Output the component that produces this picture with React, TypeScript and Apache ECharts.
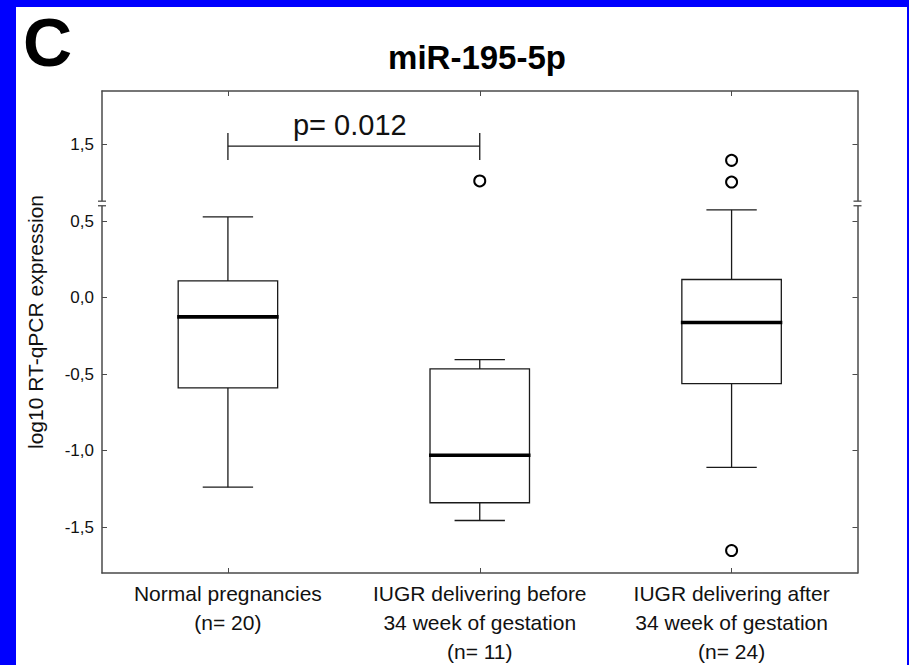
import { useEffect, useRef } from 'react';
import * as echarts from 'echarts';

const categories = [
  'Normal pregnancies\n(n= 20)',
  'IUGR delivering before\n34 week of gestation\n(n= 11)',
  'IUGR delivering after\n34 week of gestation\n(n= 24)',
];
const whiskerLow = [-1.239, -1.457, -1.11];
const quartile1 = [-0.59, -1.341, -0.562];
const medians = [-0.126, -1.03, -0.163];
const quartile3 = [0.109, -0.466, 0.118];
const whiskerHigh = [0.527, -0.405, 0.573];
const outlierCategory = [1, 2, 2, 2];
const outlierValues = [1.262, 1.397, 1.255, -1.653];
const yTicks = [-1.5, -1.0, -0.5, 0.0, 0.5, 1.5];
const breakStart = 0.6;
const breakEnd = 1.13;
const breakGap = 0.03;
const yMin = -1.8;
const yMax = 1.85;
const pFrom = 0;
const pTo = 1;
const pLevel = 1.49;
const pLabel = 'p= 0.012';

const FONT = '"Liberation Sans", Arial, Helvetica, sans-serif';
const AXIS_COLOR = '#4a4a4a';
const LINE_COLOR = '#1a1a1a';
const FRAME_BLUE = '#0000ff';

export default function App() {
  const ref = useRef<HTMLDivElement>(null);
  useEffect(() => {
    if (!ref.current) return;
    const chart = echarts.init(ref.current, undefined, { renderer: 'svg' });
    const fmt = (v: number) => v.toFixed(1).replace('.', ',');
    const boxData = categories.map((_, i) => [i, whiskerLow[i], quartile1[i], medians[i], quartile3[i], whiskerHigh[i]]);
    const outlierData = outlierValues.map((v, i) => [outlierCategory[i], v]);
    const yAxisCommon = {
      type: 'value',
      min: yMin,
      max: yMax,
      breaks: [{ start: breakStart, end: breakEnd, gap: breakGap }],
      breakArea: { show: false },
      splitLine: { show: false },
      axisLine: { show: true, onZero: false, lineStyle: { color: AXIS_COLOR, width: 1.5 } },
    };
    const xAxisLine = { show: true, onZero: false, lineStyle: { color: AXIS_COLOR, width: 1.5 } };
    const option: any = {
      animation: false,
      backgroundColor: '#ffffff',
      graphic: [
        { type: 'rect', z: -10, silent: true, shape: { x: 0, y: 0, width: 16, height: 665 }, style: { fill: FRAME_BLUE } },
        { type: 'rect', z: -10, silent: true, shape: { x: 0, y: 0, width: 909, height: 7 }, style: { fill: FRAME_BLUE } },
        { type: 'rect', z: -10, silent: true, shape: { x: 907, y: 0, width: 2, height: 665 }, style: { fill: FRAME_BLUE } },
      ],
      title: [
        {
          text: 'C',
          left: 18,
          top: 3,
          textStyle: { fontFamily: FONT, fontSize: 68, fontWeight: 'bold', color: '#000' },
        },
        {
          text: 'miR-195-5p',
          left: 472,
          top: 36,
          textAlign: 'center',
          textStyle: { fontFamily: FONT, fontSize: 33, fontWeight: 'bold', color: '#000' },
        },
      ],
      grid: { left: 102, right: 51.5, top: 91, bottom: 92, outerBoundsMode: 'none' },
      xAxis: [
        {
          type: 'category',
          data: categories,
          position: 'bottom',
          axisLine: xAxisLine,
          axisTick: { show: true, inside: true, alignWithLabel: true, length: 5, lineStyle: { color: AXIS_COLOR } },
          axisLabel: {
            interval: 0,
            margin: 6,
            fontFamily: FONT,
            fontSize: 21,
            lineHeight: 29,
            color: '#111',
          },
        },
        {
          type: 'category',
          data: categories,
          position: 'top',
          axisLine: xAxisLine,
          axisTick: { show: true, inside: true, alignWithLabel: true, length: 5, lineStyle: { color: AXIS_COLOR } },
          axisLabel: { show: false },
        },
      ],
      yAxis: [
        {
          ...yAxisCommon,
          position: 'left',
          name: 'log10 RT-qPCR expression',
          nameLocation: 'middle',
          nameRotate: 90,
          nameGap: 56,
          nameTextStyle: { fontFamily: FONT, fontSize: 21, color: '#111', padding: [0, 0, 0, 20] },
          axisTick: { show: true, inside: true, length: 5, customValues: yTicks, lineStyle: { color: AXIS_COLOR } },
          axisLabel: {
            customValues: yTicks,
            formatter: fmt,
            margin: 8,
            fontFamily: FONT,
            fontSize: 17,
            color: '#111',
          },
        },
        {
          ...yAxisCommon,
          position: 'right',
          axisTick: { show: true, inside: true, length: 5, customValues: yTicks, lineStyle: { color: AXIS_COLOR } },
          axisLabel: { show: false },
        },
      ],
      series: [
        {
          type: 'custom',
          name: 'boxes',
          xAxisIndex: 0,
          yAxisIndex: 0,
          encode: { x: 0, y: [1, 2, 3, 4, 5] },
          data: boxData,
          z: 3,
          renderItem: (params: any, api: any) => {
            const i = api.value(0);
            const band = api.size([1, 0])[0];
            const boxW = band * 0.395;
            const capW = band * 0.2;
            const low = api.coord([i, api.value(1)]);
            const cx = low[0];
            const yLow = low[1];
            const yQ1 = api.coord([i, api.value(2)])[1];
            const yMed = api.coord([i, api.value(3)])[1];
            const yQ3 = api.coord([i, api.value(4)])[1];
            const yHigh = api.coord([i, api.value(5)])[1];
            const st = { stroke: LINE_COLOR, lineWidth: 1.3, fill: null };
            return {
              type: 'group',
              children: [
                { type: 'line', shape: { x1: cx, y1: yHigh, x2: cx, y2: yQ3 }, style: st },
                { type: 'line', shape: { x1: cx, y1: yQ1, x2: cx, y2: yLow }, style: st },
                { type: 'line', shape: { x1: cx - capW / 2, y1: yHigh, x2: cx + capW / 2, y2: yHigh }, style: st },
                { type: 'line', shape: { x1: cx - capW / 2, y1: yLow, x2: cx + capW / 2, y2: yLow }, style: st },
                {
                  type: 'rect',
                  shape: { x: cx - boxW / 2, y: yQ3, width: boxW, height: yQ1 - yQ3 },
                  style: { fill: '#ffffff', stroke: LINE_COLOR, lineWidth: 1.3 },
                },
                {
                  type: 'line',
                  shape: { x1: cx - boxW / 2 - 1, y1: yMed, x2: cx + boxW / 2 + 1, y2: yMed },
                  style: { stroke: '#000', lineWidth: 3.6 },
                },
              ],
            };
          },
        },
        {
          type: 'scatter',
          name: 'outliers',
          xAxisIndex: 0,
          yAxisIndex: 0,
          data: outlierData,
          symbol: 'circle',
          symbolSize: 11,
          itemStyle: { color: '#ffffff', borderColor: '#000', borderWidth: 2, opacity: 1 },
          z: 4,
        },
        {
          type: 'custom',
          name: 'pvalue',
          xAxisIndex: 0,
          yAxisIndex: 0,
          data: [[pFrom, pTo, pLevel]],
          encode: { x: [0, 1], y: 2 },
          z: 4,
          renderItem: (params: any, api: any) => {
            const a = api.coord([api.value(0), api.value(2)]);
            const b = api.coord([api.value(1), api.value(2)]);
            const st = { stroke: LINE_COLOR, lineWidth: 1.3 };
            return {
              type: 'group',
              children: [
                { type: 'line', shape: { x1: a[0], y1: a[1], x2: b[0], y2: b[1] }, style: st },
                { type: 'line', shape: { x1: a[0], y1: a[1] - 13, x2: a[0], y2: a[1] + 14 }, style: st },
                { type: 'line', shape: { x1: b[0], y1: b[1] - 13, x2: b[0], y2: b[1] + 14 }, style: st },
                {
                  type: 'text',
                  style: {
                    x: (a[0] + b[0]) / 2 - 4,
                    y: a[1] - 7,
                    text: pLabel,
                    fill: '#111',
                    font: `29px ${FONT}`,
                    align: 'center',
                    verticalAlign: 'bottom',
                  },
                },
              ],
            };
          },
        },
        {
          type: 'custom',
          name: 'axisBreakMarks',
          xAxisIndex: 0,
          yAxisIndex: 0,
          data: [[0, breakStart, breakEnd]],
          z: 5,
          renderItem: (params: any, api: any) => {
            const cs = params.coordSys;
            const yLo = api.coord([0, api.value(1)])[1];
            const yHi = api.coord([0, api.value(2)])[1];
            const mk = (x: number) => [
              { type: 'rect', shape: { x: x - 2, y: yHi, width: 4, height: yLo - yHi }, style: { fill: '#ffffff' } },
              { type: 'line', shape: { x1: x - 4, y1: yHi, x2: x + 4, y2: yHi }, style: { stroke: AXIS_COLOR, lineWidth: 1.3 } },
              { type: 'line', shape: { x1: x - 4, y1: yLo, x2: x + 4, y2: yLo }, style: { stroke: AXIS_COLOR, lineWidth: 1.3 } },
            ];
            return { type: 'group', children: [...mk(cs.x), ...mk(cs.x + cs.width)] };
          },
        },
      ],
    };
    chart.setOption(option);
    return () => chart.dispose();
  }, []);
  return (
    <div
      ref={ref}
      style={{ position: 'fixed', left: 0, top: 0, width: 909, height: 665, background: '#ffffff' }}
    />
  );
}
